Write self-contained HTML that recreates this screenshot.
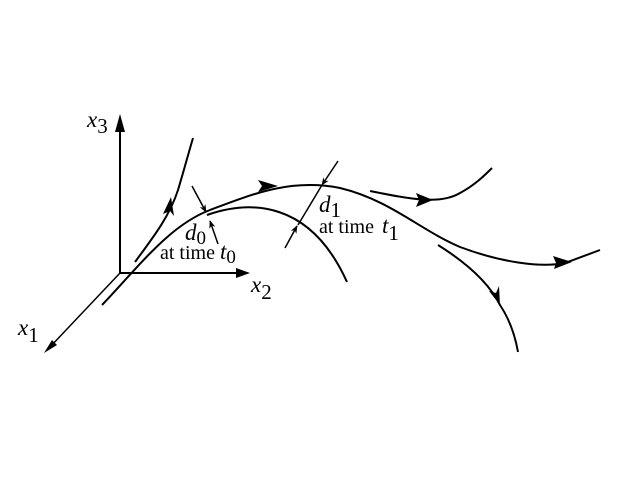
<!DOCTYPE html>
<html><head><style>body{margin:0;background:#fff}svg{display:block}text{font-family:"Liberation Serif",serif;fill:#000}</style></head><body>
<svg width="640" height="480" viewBox="0 0 640 480">
<defs>
<marker id="s" viewBox="0 0 10 10" refX="9" refY="5" markerWidth="8" markerHeight="8" markerUnits="userSpaceOnUse" orient="auto"><path d="M0,1 L10,5 L0,9 L3,5z" fill="#000"/></marker>
</defs>
<g fill="none" stroke="#000" stroke-width="2">
<line x1="120" y1="273" x2="120" y2="125"/>
<line x1="120" y1="273" x2="240" y2="273"/>
<line x1="120" y1="273" x2="50" y2="347" stroke-width="1.5"/>
<path d="M102,305 C140,265 170,225 210,210 S290,178 340,188 C390,200 420,230 460,247 C500,262 540,268 565,263 L600,250" />
<path d="M207,215 C250,200 310,200 347,282"/>
<path d="M135,262 C155,235 170,215 178,190 C184,170 188,155 193,138"/>
<path d="M370,191 C410,199 440,205 460,193 C475,185 485,175 492,168"/>
<path d="M438,245 C470,265 490,285 500,305 C510,320 515,335 518,352"/>
</g>
<path d="M52,340 L44,353 L57,345z M120,114 L115,132 L125,132z M250,273 L236,268 L236,278z" fill="#000"/>
<path d="M278,186 L258,180 L262,186 L258,192z M433,200 L416,193 L419,200 L416,207z M572,262 L553,256 L556,263 L554,269z M500,305 L489,291 L496,293 L499,286z M171,197 L163,214 L170,211 L174,216z" fill="#000"/>
<g stroke="#000" stroke-width="1.5" fill="none">
<line x1="192" y1="186" x2="206" y2="212" marker-end="url(#s)"/>
<line x1="218" y1="244" x2="210" y2="221" marker-end="url(#s)"/>
<line x1="338" y1="161" x2="322" y2="185" marker-end="url(#s)"/>
<line x1="322" y1="185" x2="298" y2="225"/>
<line x1="285" y1="248" x2="297" y2="226" marker-end="url(#s)"/>
</g>
<text x="87" y="127" font-size="23" font-style="italic">x<tspan font-style="normal" font-size="21" dy="6">3</tspan></text>
<text x="251" y="292" font-size="23" font-style="italic">x<tspan font-style="normal" font-size="21" dy="7">2</tspan></text>
<text x="18" y="335" font-size="23" font-style="italic">x<tspan font-style="normal" font-size="21" dy="7">1</tspan></text>
<text x="185" y="240" font-size="23" font-style="italic">d<tspan font-style="normal" font-size="19" dy="4">0</tspan></text>
<text x="160" y="259" font-size="20">at time <tspan font-style="italic" font-size="23">t</tspan><tspan font-size="19" dy="4">0</tspan></text>
<text x="319" y="212" font-size="23" font-style="italic">d<tspan font-style="normal" font-size="21" dy="5">1</tspan></text>
<text x="319" y="233" font-size="20">at time <tspan font-style="italic" font-size="23" dx="3">t</tspan><tspan font-size="21" dy="7">1</tspan></text>
</svg>
</body></html>
